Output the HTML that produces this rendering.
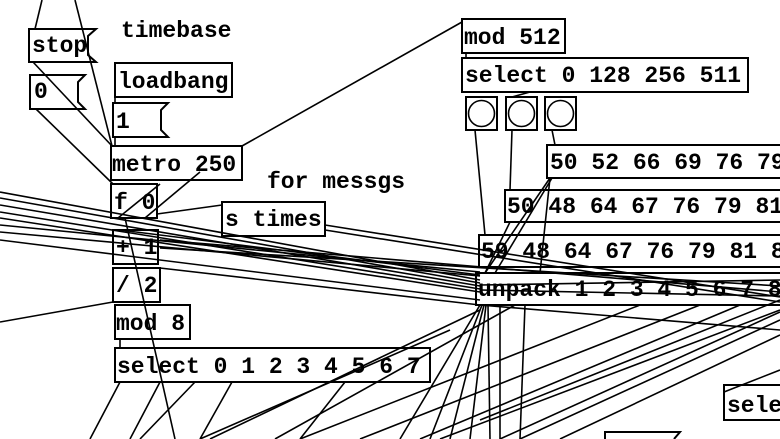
<!DOCTYPE html>
<html><head><style>
html,body{margin:0;padding:0;background:#fff;}
svg{display:block}
text{font-family:"Liberation Mono",monospace;font-weight:bold;font-size:23px;fill:#000}
</style></head><body>
<svg width="780" height="439" viewBox="0 0 780 439" xmlns="http://www.w3.org/2000/svg">
<g stroke="#000" stroke-width="2" fill="#fff">
<path d="M29 29 H96 L88 36 V55 L96 62 H29 Z"/>
<path d="M30 75 H85 L78 82 V102 L85 109 H30 Z"/>
<path d="M113 103 H168 L161 110 V130 L168 137 H113 Z"/>
<rect x="115" y="63" width="117" height="34"/>
<rect x="111" y="146" width="131" height="34"/>
<rect x="111" y="184" width="46" height="34"/>
<rect x="222" y="202" width="103" height="34"/>
<rect x="113" y="230" width="45" height="34"/>
<rect x="113" y="268" width="47" height="34"/>
<rect x="115" y="305" width="75" height="34"/>
<rect x="115" y="348" width="315" height="34"/>
<rect x="462" y="19" width="103" height="34"/>
<rect x="462" y="58" width="286" height="34"/>
<rect x="466" y="97" width="31" height="33"/>
<rect x="506" y="97" width="31" height="33"/>
<rect x="545" y="97" width="31" height="33"/>
<path d="M785 145 H547 V178 H785"/>
<path d="M785 190 H505 V222 H785"/>
<path d="M785 235 H479 V267 H785"/>
<path d="M785 273 H476 V305 H785"/>
<path d="M785 385 H724 V420 H785"/>
<path d="M605 439 V432 H680 L674 439"/>
</g>
<text x="32" y="52">stop</text>
<text x="34" y="98">0</text>
<text x="121" y="37">timebase</text>
<text x="118" y="88">loadbang</text>
<text x="116" y="128">1</text>
<text x="112" y="171">metro 250</text>
<text x="267" y="188">for messgs</text>
<text x="114" y="209">f 0</text>
<text x="225" y="226">s times</text>
<text x="116" y="254">+ 1</text>
<text x="116" y="292">/ 2</text>
<text x="116" y="330">mod 8</text>
<text x="117" y="373">select 0 1 2 3 4 5 6 7</text>
<text x="464" y="44">mod 512</text>
<text x="465" y="82">select 0 128 256 511</text>
<text x="550" y="169">50 52 66 69 76 79</text>
<text x="507" y="213">50 48 64 67 76 79 81</text>
<text x="481" y="258">59 48 64 67 76 79 81 8</text>
<text x="478" y="296">unpack 1 2 3 4 5 6 7 8</text>
<text x="727" y="412">sele</text>
<g stroke="#000" stroke-width="1.6" fill="none">
<circle cx="481.5" cy="113.5" r="13"/>
<circle cx="521.5" cy="113.5" r="13"/>
<circle cx="560.5" cy="113.5" r="13"/>
<line x1="35" y1="29" x2="42" y2="0"/>
<line x1="75" y1="0" x2="112" y2="146"/>
<line x1="33" y1="62" x2="112" y2="146"/>
<line x1="36" y1="109" x2="113" y2="184"/>
<line x1="242" y1="146" x2="462" y2="22"/>
<line x1="115" y1="97" x2="115" y2="103"/>
<line x1="115" y1="137" x2="115" y2="146"/>
<line x1="200" y1="172" x2="145" y2="218"/>
<line x1="157" y1="214" x2="222" y2="205"/>
<line x1="118" y1="218" x2="160" y2="184"/>
<line x1="125" y1="218" x2="175" y2="439"/>
<line x1="113" y1="302" x2="0" y2="322"/>
<line x1="120" y1="339" x2="120" y2="348"/>
<line x1="0" y1="192" x2="480" y2="280"/>
<line x1="0" y1="198" x2="480" y2="283"/>
<line x1="0" y1="205" x2="480" y2="286"/>
<line x1="0" y1="212" x2="480" y2="289"/>
<line x1="0" y1="218" x2="480" y2="292"/>
<line x1="0" y1="225" x2="480" y2="272"/>
<line x1="0" y1="232" x2="480" y2="276"/>
<line x1="0" y1="240" x2="480" y2="300"/>
<line x1="160" y1="268" x2="480" y2="305"/>
<line x1="120" y1="230" x2="480" y2="275"/>
<line x1="325" y1="225" x2="780" y2="297"/>
<line x1="325" y1="230" x2="780" y2="302"/>
<line x1="160" y1="240" x2="780" y2="292"/>
<line x1="160" y1="248" x2="780" y2="286"/>
<line x1="466" y1="53" x2="466" y2="58"/>
<line x1="475" y1="130" x2="485" y2="235"/>
<line x1="512" y1="130" x2="510" y2="190"/>
<line x1="552" y1="130" x2="555" y2="145"/>
<line x1="550" y1="178" x2="485" y2="273"/>
<line x1="552" y1="178" x2="495" y2="273"/>
<line x1="550" y1="178" x2="540" y2="273"/>
<line x1="510" y1="222" x2="485" y2="273"/>
<line x1="530" y1="92" x2="512" y2="97"/>
<line x1="480" y1="305" x2="400" y2="439"/>
<line x1="482" y1="305" x2="430" y2="439"/>
<line x1="484" y1="305" x2="450" y2="439"/>
<line x1="486" y1="305" x2="470" y2="439"/>
<line x1="488" y1="305" x2="490" y2="439"/>
<line x1="500" y1="305" x2="500" y2="439"/>
<line x1="525" y1="305" x2="520" y2="439"/>
<line x1="480" y1="310" x2="210" y2="439"/>
<line x1="515" y1="305" x2="275" y2="439"/>
<line x1="640" y1="305" x2="300" y2="439"/>
<line x1="700" y1="305" x2="360" y2="439"/>
<line x1="740" y1="305" x2="420" y2="439"/>
<line x1="780" y1="310" x2="440" y2="439"/>
<line x1="780" y1="320" x2="520" y2="439"/>
<line x1="780" y1="335" x2="560" y2="439"/>
<line x1="780" y1="300" x2="480" y2="420"/>
<line x1="780" y1="312" x2="500" y2="439"/>
<line x1="780" y1="370" x2="724" y2="392"/>
<line x1="480" y1="305" x2="780" y2="330"/>
<line x1="480" y1="290" x2="780" y2="296"/>
<line x1="480" y1="285" x2="780" y2="280"/>
<line x1="120" y1="382" x2="90" y2="439"/>
<line x1="160" y1="382" x2="130" y2="439"/>
<line x1="195" y1="382" x2="140" y2="439"/>
<line x1="232" y1="382" x2="200" y2="439"/>
<line x1="345" y1="382" x2="300" y2="439"/>
<line x1="450" y1="330" x2="200" y2="439"/>
</g>
</svg>
</body></html>
